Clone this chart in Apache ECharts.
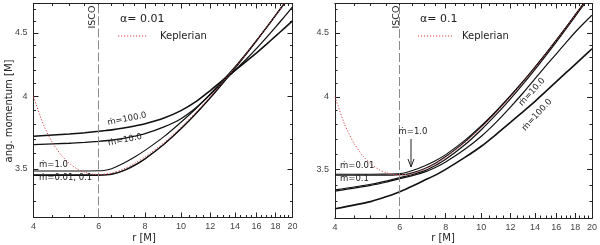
<!DOCTYPE html>
<html><head><meta charset="utf-8">
<script src="https://cdn.jsdelivr.net/npm/echarts@6.0.0/dist/echarts.min.js"></script>
<style>html,body{margin:0;padding:0;background:#fff}#c{width:600px;height:245px}</style>
</head><body><div id="c"></div>
<script>
// tick labels
const xTicks = [4, 6, 8, 10, 12, 14, 16, 18, 20];
const yTicks = [3.5, 4, 4.5];

// Keplerian angular momentum
const rKep = [4, 4.25, 4.5, 4.75, 5, 5.25, 5.5, 5.75, 6, 6.5, 7, 7.5, 8, 9, 10, 11, 12, 13, 14, 15, 16, 17, 18, 19, 20];
const lKep = [4.000, 3.801, 3.674, 3.591, 3.536, 3.500, 3.479, 3.467, 3.464, 3.474, 3.500, 3.536, 3.578, 3.674, 3.780, 3.889, 4.000, 4.111, 4.221, 4.330, 4.438, 4.543, 4.648, 4.750, 4.851];

// radii of the solution curves
const rSol = [4, 5, 5.5, 6, 6.25, 6.5, 7, 7.5, 8, 9, 10, 11, 12, 13, 14, 15, 16, 17, 18, 19, 20];

// alpha = 0.01
const a001_m001 = [3.462,3.462,3.462,3.462,3.463,3.467,3.490,3.525,3.567,3.664,3.770,3.880,3.992,4.105,4.217,4.327,4.436,4.542,4.647,4.750,4.850];
const a001_m01  = [3.459,3.459,3.459,3.459,3.461,3.465,3.488,3.523,3.565,3.662,3.768,3.878,3.990,4.103,4.215,4.326,4.435,4.541,4.646,4.749,4.849];
const a001_m1   = [3.487,3.487,3.487,3.488,3.492,3.502,3.537,3.578,3.622,3.715,3.815,3.915,4.020,4.125,4.228,4.333,4.438,4.543,4.648,4.750,4.851];
const a001_m10  = [3.661,3.670,3.676,3.683,3.687,3.692,3.703,3.718,3.735,3.782,3.840,3.920,4.015,4.112,4.200,4.285,4.372,4.460,4.547,4.634,4.720];
const a001_m100 = [3.718,3.733,3.742,3.752,3.757,3.762,3.775,3.789,3.805,3.845,3.898,3.965,4.045,4.125,4.198,4.268,4.337,4.405,4.472,4.537,4.600];

// alpha = 0.1
const a01_m001 = [3.462,3.462,3.462,3.466,3.468,3.477,3.504,3.540,3.583,3.680,3.786,3.895,4.005,4.115,4.225,4.333,4.440,4.545,4.650,4.752,4.852];
const a01_m01  = [3.370,3.405,3.425,3.447,3.457,3.467,3.490,3.525,3.565,3.660,3.765,3.874,3.985,4.096,4.207,4.317,4.426,4.532,4.638,4.741,4.842];
const a01_m1   = [3.468,3.468,3.469,3.473,3.480,3.492,3.522,3.556,3.596,3.690,3.793,3.900,4.008,4.117,4.226,4.334,4.441,4.546,4.651,4.752,4.852];
const a01_m10  = [3.362,3.398,3.418,3.440,3.450,3.460,3.482,3.512,3.548,3.630,3.720,3.820,3.925,4.030,4.136,4.236,4.330,4.420,4.505,4.580,4.650];
const a01_m100 = [3.255,3.298,3.327,3.359,3.376,3.394,3.430,3.463,3.500,3.576,3.652,3.735,3.816,3.893,3.967,4.042,4.114,4.182,4.246,4.309,4.370];

const ISCO = 6;

const L = Math.log;
const X0 = L(4), X1 = L(20), Y0 = L(3.2), Y1 = L(4.75);
const xMaj = xTicks.map(L);
const yMaj = yTicks.map(L);
const xMin = []; for (let v = 4.5; v < 20; v += 0.5) if (!xTicks.includes(v)) xMin.push(L(v));
const yMin = []; for (let i = 32; i <= 47; i++) { const v = i / 10; if (!yTicks.includes(v)) yMin.push(L(v)); }

const AX = '#222', LAB = '#444';
const labFont = {fontFamily: 'Liberation Sans', fontSize: 9, color: LAB};

function xAx(g, pos, vals, len, lab) {
  return {type: 'value', gridIndex: g, position: pos, min: X0, max: X1,
    axisLine: {show: true, onZero: false, lineStyle: {color: AX, width: 1}},
    axisTick: {show: true, inside: true, length: len, customValues: vals, lineStyle: {color: AX, width: 1}},
    axisLabel: Object.assign({show: lab, customValues: vals, margin: 5,
      formatter: v => String(Math.round(Math.exp(v)))}, labFont),
    splitLine: {show: false}};
}
function yAx(g, pos, vals, len, lab) {
  return {type: 'value', gridIndex: g, position: pos, min: Y0, max: Y1,
    axisLine: {show: true, onZero: false, lineStyle: {color: AX, width: 1}},
    axisTick: {show: true, inside: true, length: len, customValues: vals, lineStyle: {color: AX, width: 1}},
    axisLabel: Object.assign({show: lab, customValues: vals, margin: 6,
      formatter: v => String(Math.round(Math.exp(v) * 10) / 10)}, labFont),
    splitLine: {show: false}};
}
const xAxes = [], yAxes = [];
for (let g = 0; g < 2; g++) {
  xAxes.push(xAx(g, 'bottom', xMaj, 5, true), xAx(g, 'bottom', xMin, 2.5, false),
             xAx(g, 'top', xMaj, 5, false), xAx(g, 'top', xMin, 2.5, false));
  yAxes.push(yAx(g, 'left', yMaj, 5, true), yAx(g, 'left', yMin, 2.5, false),
             yAx(g, 'right', yMaj, 5, false), yAx(g, 'right', yMin, 2.5, false));
}

function line(g, rs, ls, color, width, type, z) {
  return {type: 'line', xAxisIndex: g * 4, yAxisIndex: g * 4,
    data: rs.map((r, i) => [L(r), L(ls[i])]),
    showSymbol: false, symbol: 'none', smooth: 0.25, silent: true, z: z || 2,
    lineStyle: {color: color, width: width, type: type || 'solid'}};
}
function kep(g) {
  const s = line(g, rKep, lKep, '#d8404a', 1, [1.2, 1.8], 5);
  s.markLine = {symbol: 'none', silent: true, label: {show: false}, animation: false,
    lineStyle: {color: '#8a8a8a', type: [9, 3], width: 1}, data: [{xAxis: L(ISCO)}]};
  return s;
}
const BL = '#111';
const series = [
  line(0, rSol, a001_m100, BL, 1.6), line(0, rSol, a001_m10, BL, 1.3),
  line(0, rSol, a001_m1, BL, 1.1), line(0, rSol, a001_m01, BL, 1.1), line(0, rSol, a001_m001, BL, 1.1),
  kep(0),
  line(1, rSol, a01_m100, BL, 1.6), line(1, rSol, a01_m10, BL, 1.2),
  line(1, rSol, a01_m1, BL, 1.1), line(1, rSol, a01_m01, BL, 1.2), line(1, rSol, a01_m001, BL, 1.2),
  kep(1)
];

function txt(x, y, s, size, rot, align, color) {
  return {type: 'text', x: x, y: y, rotation: rot || 0, z: 50, silent: true,
    style: {text: s, x: 0, y: 0, fill: color || '#222', font: size + 'px "DejaVu Sans"',
      align: align || 'center', verticalAlign: 'middle', textAlign: align || 'center', textVerticalAlign: 'middle'}};
}
function seg(x1, y1, x2, y2, stroke, dash) {
  return {type: 'line', z: 50, silent: true, shape: {x1: x1, y1: y1, x2: x2, y2: y2},
    style: {stroke: stroke, lineWidth: 1, lineDash: dash || null}};
}
const M = '\u1E41';
const graphic = [
  txt(9, 111, 'ang. momentum [M]', 10, Math.PI / 2),
  txt(144, 238, 'r [M]', 10), txt(443, 238, 'r [M]', 10),
  txt(93, 17, 'ISCO', 9.5, Math.PI / 2), txt(397, 17, 'ISCO', 9.5, Math.PI / 2),
  txt(120, 19, '\u03B1= 0.01', 11, 0, 'left'), txt(420, 19, '\u03B1= 0.1', 11, 0, 'left'),
  seg(118, 36, 148, 36, '#d8404a', [1.2, 1.8]), txt(160, 36, 'Keplerian', 10, 0, 'left'),
  seg(418, 36, 452, 36, '#d8404a', [1.2, 1.8]), txt(462, 36, 'Keplerian', 10, 0, 'left'),
  txt(127, 119, M + '=100.0', 8.5, 0.2), txt(125, 140, M + '=10.0', 8.5, 0.2),
  txt(39, 165, M + '=1.0', 8.5, 0, 'left'), txt(39, 178, M + '=0.01, 0.1', 8.5, 0, 'left'),
  txt(340, 166, M + '=0.01', 8.5, 0, 'left'), txt(340, 179, M + '=0.1', 8.5, 0, 'left'),
  txt(413, 132, M + '=1.0', 8.5),
  seg(411, 139, 411, 167, '#222'),
  {type: 'polyline', z: 50, silent: true, shape: {points: [[408, 159], [411, 167], [414, 159]]}, style: {stroke: '#222', fill: null, lineWidth: 1}},
  txt(532, 92, M + '=10.0', 8.5, 0.83), txt(537, 115, M + '=100.0', 8.5, 0.83)
];

const chart = echarts.init(document.getElementById('c'), null, {renderer: 'canvas'});
chart.setOption({
  animation: false,
  backgroundColor: '#fff',
  grid: [{left: 33.5, top: 3.5, width: 259, height: 214}, {left: 335, top: 3.5, width: 259, height: 214.5}],
  xAxis: xAxes, yAxis: yAxes, series: series, graphic: graphic
});
</script></body></html>
